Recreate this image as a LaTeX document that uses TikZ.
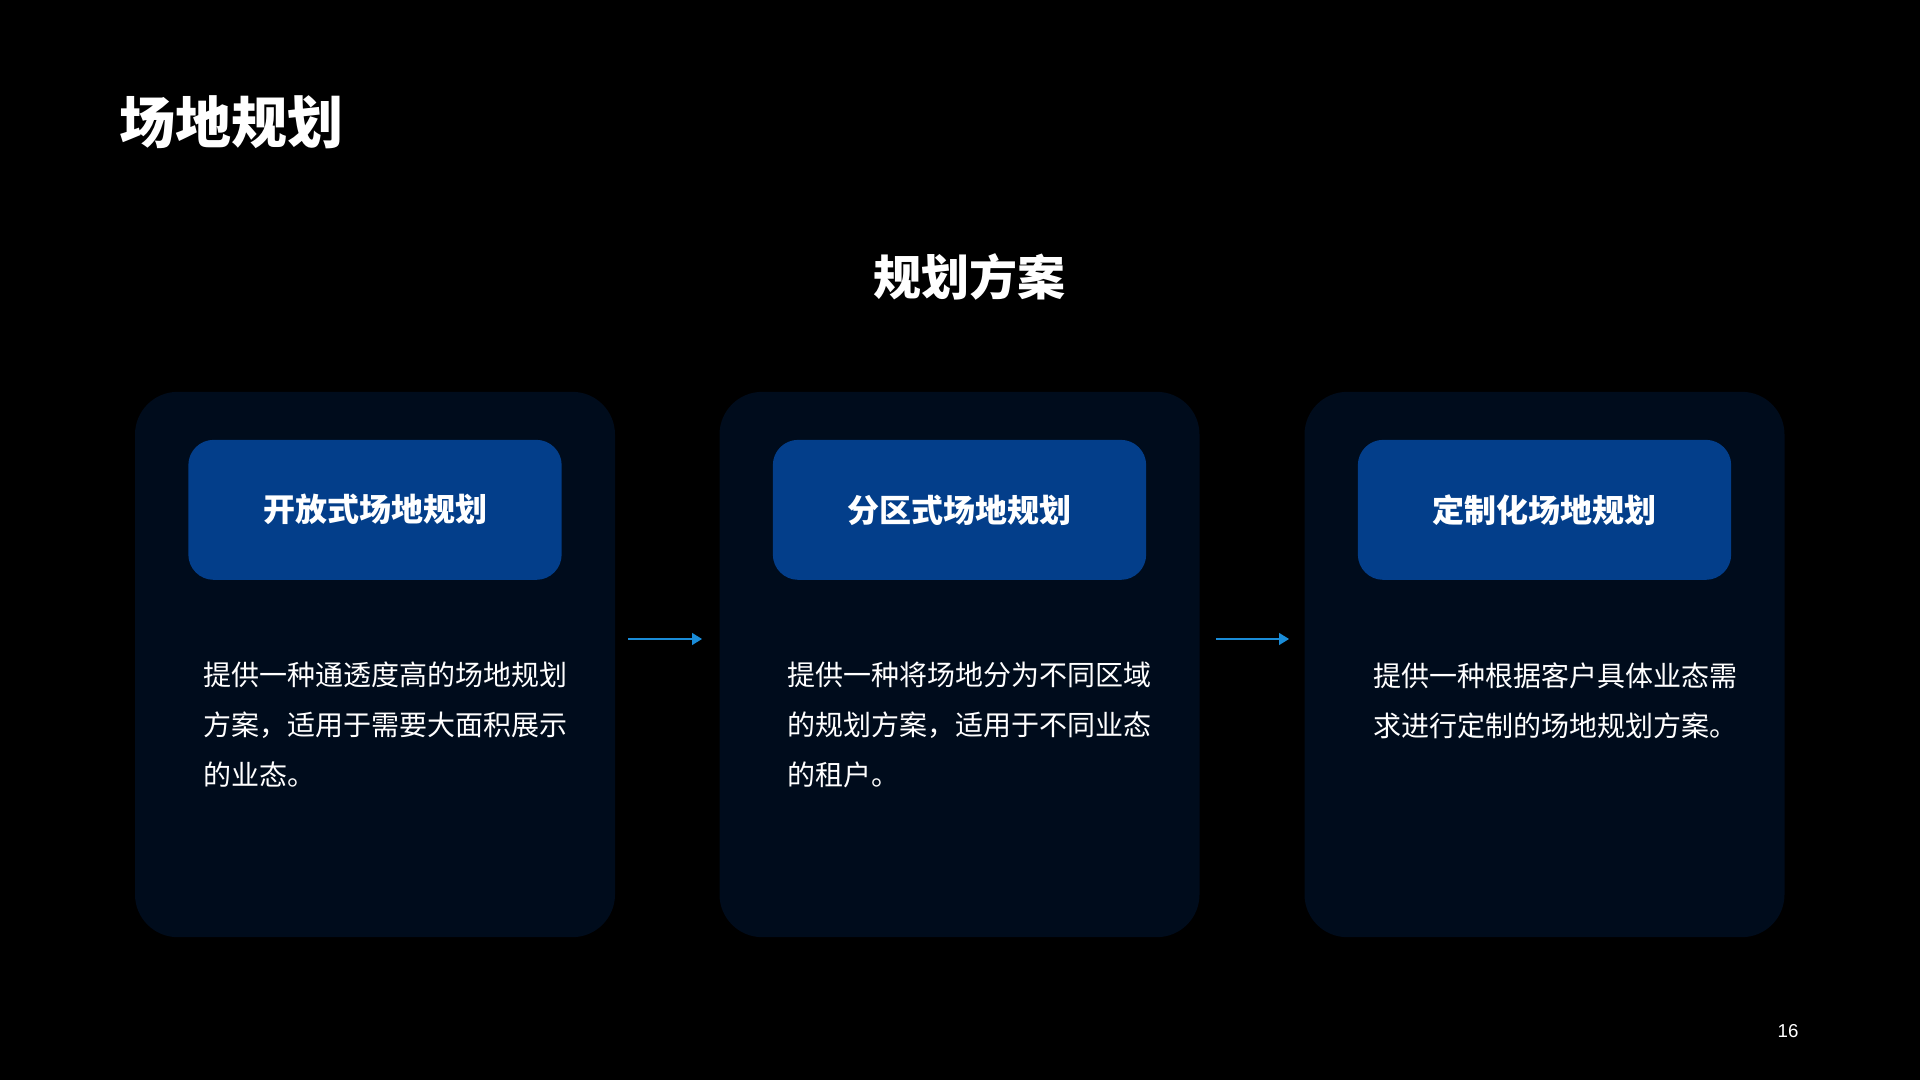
\documentclass[tikz,border=0pt]{standalone}
\usepackage{fontspec}
\newfontfamily\cjk{Noto Sans CJK SC}
\newfontfamily\numfont{Liberation Sans}
\usetikzlibrary{arrows.meta,positioning}
\definecolor{slbg}{RGB}{0,0,0}
\definecolor{slcard}{RGB}{0,12,28}
\definecolor{slhead}{RGB}{3,62,138}
\definecolor{slarrow}{RGB}{26,140,216}
\tikzset{
  cardnode/.style={rectangle,fill=slcard,rounded corners=32pt,minimum width=360pt,minimum height=409pt,inner sep=0pt},
  headnode/.style={rectangle,fill=slhead,rounded corners=19pt,minimum width=280pt,minimum height=105pt,inner sep=0pt,text=white,font=\cjk\bfseries\fontsize{24}{28}\selectfont},
  descnode/.style={anchor=north west,inner sep=0pt,align=left,text=white,font=\cjk\fontsize{21}{37.5}\selectfont},
  flowarrow/.style={-{Triangle[length=7.5pt,width=9pt]},line width=1.1pt,draw=slarrow}
}

\begin{document}
\begin{tikzpicture}[x=0.75pt,y=-0.75pt]
  \fill[slbg] (0,0) rectangle (1920,1080);
  \useasboundingbox (0,0) rectangle (1920,1080);
  \node[anchor=west,inner sep=0pt,text=white,font=\cjk\bfseries\fontsize{42}{48}\selectfont] (title) at (119,122) {场地规划};
  \node[inner sep=0pt,text=white,font=\cjk\bfseries\fontsize{36}{42}\selectfont] (subtitle) at (969,277) {规划方案};
  \node[cardnode] (card1) at (375,664.5) {};
  \node[cardnode] (card2) at (959.5,664.5) {};
  \node[cardnode] (card3) at (1544.5,664.5) {};
  \node[headnode,below=36pt of card1.north] (head1) {\raisebox{-2pt}{开放式场地规划}};
  \node[headnode,below=36pt of card2.north] (head2) {\raisebox{-2pt}{分区式场地规划}};
  \node[headnode,below=36pt of card3.north] (head3) {\raisebox{-2pt}{定制化场地规划}};
  \node[descnode] (desc1) at (203,662) {提供一种通透度高的场地规划\\方案，适用于需要大面积展示\\的业态。};
  \node[descnode] (desc2) at (787,662) {提供一种将场地分为不同区域\\的规划方案，适用于不同业态\\的租户。};
  \node[descnode] (desc3) at (1373,662) {提供一种根据客户具体业态需\\求进行定制的场地规划方案。};
  \coordinate (arr1s) at (628,639);
  \coordinate (arr1e) at (702,639);
  \coordinate (arr2s) at (1216,639);
  \coordinate (arr2e) at (1289,639);
  \draw[flowarrow] (arr1s) -- (arr1e);
  \draw[flowarrow] (arr2s) -- (arr2e);
  \node[inner sep=0pt,text=white,font=\numfont\fontsize{14}{16}\selectfont] (pagenum) at (1788,1031) {16};
\end{tikzpicture}
\end{document}
